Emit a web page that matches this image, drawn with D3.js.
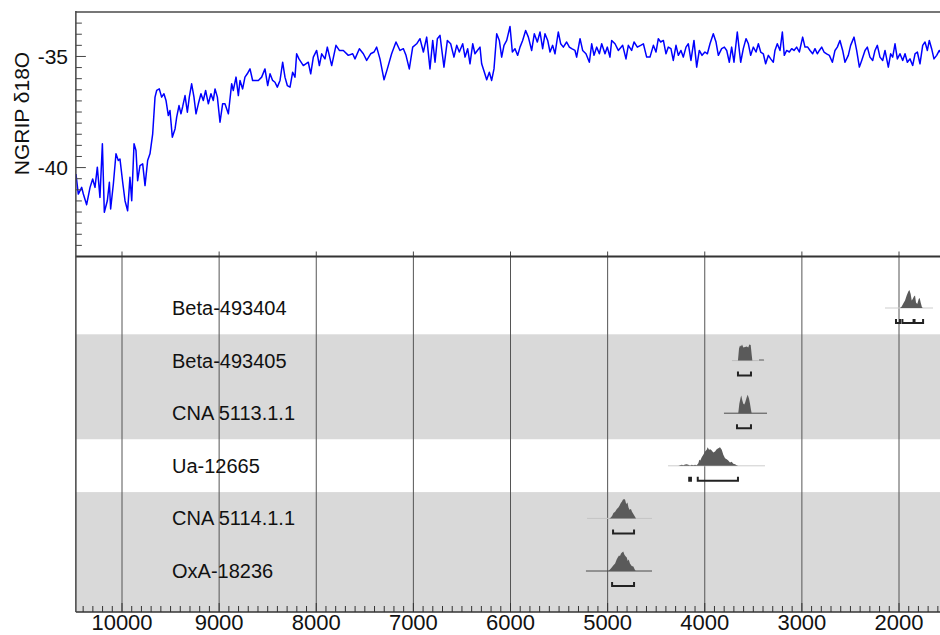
<!DOCTYPE html>
<html>
<head>
<meta charset="utf-8">
<script src="https://cdn.jsdelivr.net/npm/d3@7"></script>
<style>
  html, body { margin: 0; padding: 0; background: #fff; overflow: hidden; }
  svg { display: block; font-family: "Liberation Sans", Arial, Helvetica, sans-serif; }
</style>
</head>
<body>
<svg id="chart" width="940" height="635"></svg>
<script>
// ---- NGRIP δ18O record (age in cal BP, δ18O in ‰) ----
const ngripAge = [
  10474,10450,10415,10398,10364,10329,10302,10278,10254,10227,10202,10182,10151,10130,10117,10089,10062,10038,10021,
  9993,9969,9942,9918,9900,9876,9856,9839,9815,9787,9763,9736,9712,9684,9660,9643,9616,9592,9568,9547,9523,9506,9482,
  9454,9437,9413,9393,9375,9351,9327,9307,9283,9259,9238,9214,9187,9163,9139,9111,9084,9060,9042,9018,
  8991,8964,8940,8905,8871,8854,8826,8802,8785,8758,8734,8710,8682,8655,8631,8596,8562,8528,8500,8476,8449,8425,8401,
  8373,8346,8322,8298,8270,8243,8219,8202,8178,8133,8082,8057,8030,
  7996,7968,7944,7910,7886,7841,7797,7762,7721,7670,7625,7601,7556,7515,7481,7440,7405,7378,7344,7302,7268,7224,7179,
  7138,7103,7076,7042,7007,
  6966,6932,6897,6863,6829,6801,6777,6753,6726,6685,6650,6616,6582,6554,6527,6492,6468,6441,6417,6389,6366,6341,6314,
  6297,6269,6245,6218,6194,6170,6142,6115,6091,6067,6039,6005,
  5981,5954,5926,5902,5875,5844,5816,5782,5755,5724,5696,5669,5645,5617,5593,5566,5542,5508,5483,5456,5422,5394,5370,
  5336,5319,5284,5257,5223,5188,5164,5140,5113,5085,5061,5027,5003,
  4976,4958,4924,4890,4845,4811,4787,4753,4728,4694,4660,4632,4598,4564,4529,4502,4478,4454,4426,4399,4375,4348,4324,
  4296,4272,4245,4221,4193,4169,4142,4111,4083,4056,4028,
  3998,3973,3946,3912,3884,3860,3826,3798,3774,3747,3723,3699,3665,3644,3630,3603,3575,3551,3527,3500,3472,3448,3424,
  3397,3373,3345,3321,3294,3277,3253,3225,3201,3181,3157,3129,3105,3081,3054,3026,
  2992,2968,2940,2916,2889,2865,2841,2820,2796,2772,2745,2717,2686,2659,2635,2608,2580,2556,2522,2498,2463,2436,2408,
  2384,2350,2326,2299,2271,2247,2223,2196,2168,2144,2110,2086,2065,2041,2017,
  1990,1962,1938,1914,1887,1859,1835,1811,1784,1756,1732,1708,1688,1664,1640,1612,1585,1560,1530
];
const ngripD18O = [
  -40.29,-41.19,-40.89,-41.19,-41.67,-40.89,-40.51,-40.89,-39.98,-41.34,-38.93,-42.01,-41.49,-40.66,-41.86,-40.74,-39.38,-39.68,-39.61,
  -40.66,-41.49,-41.94,-40.44,-41.49,-38.93,-39.23,-40.59,-39.91,-39.83,-40.81,-39.68,-39.38,-38.48,-36.83,-36.53,-36.46,-36.83,-36.68,-36.98,-37.66,-37.43,-38.63,
  -38.26,-37.73,-37.21,-37.58,-37.25,-36.76,-37.51,-36.83,-36.23,-36.83,-37.58,-37.13,-36.68,-36.98,-36.53,-37.13,-36.68,-36.98,-36.46,-36.83,
  -37.96,-37.13,-37.13,-37.58,-36.23,-36.53,-35.93,-36.76,-36.08,-36.46,-35.93,-35.78,-35.56,-36.08,-36.08,-36.08,-35.93,-35.56,-36.31,-35.78,-36.08,-36.16,-36.38,
  -36.08,-35.26,-35.93,-36.31,-36.38,-35.71,-35.93,-34.88,-35.11,-35.41,-35.26,-35.78,-35.03,
  -34.73,-35.41,-34.88,-35.11,-34.58,-35.41,-34.50,-34.73,-34.73,-34.95,-34.88,-35.11,-34.65,-34.88,-35.18,-34.88,-34.80,-34.58,-35.11,-36.05,-35.56,-34.88,-34.35,
  -34.73,-34.65,-34.95,-35.56,-34.58,
  -34.43,-34.20,-34.80,-34.13,-35.56,-34.28,-35.26,-34.20,-34.05,-35.48,-34.28,-34.43,-35.03,-34.50,-34.80,-34.43,-35.03,-34.65,-35.33,-34.43,-34.88,-34.73,-34.58,
  -35.33,-35.71,-36.05,-35.71,-36.08,-35.56,-33.98,-34.28,-35.03,-34.50,-34.28,-33.65,
  -34.80,-34.65,-34.95,-34.58,-34.28,-33.83,-34.13,-34.73,-33.98,-34.35,-33.90,-34.65,-33.98,-34.28,-34.80,-34.50,-34.88,-33.90,-34.43,-34.58,-34.35,-34.58,-34.65,
  -34.73,-35.03,-34.20,-34.73,-34.88,-35.26,-34.43,-34.95,-34.58,-34.88,-34.43,-34.88,-34.58,
  -35.03,-34.28,-34.43,-34.73,-34.50,-35.11,-34.50,-34.73,-34.35,-34.58,-34.50,-34.43,-35.03,-35.03,-34.50,-34.80,-34.20,-34.35,-34.28,-34.88,-34.58,-34.65,-35.18,
  -34.50,-34.95,-34.73,-35.03,-34.58,-34.43,-35.18,-34.28,-35.48,-34.73,-34.95,
  -34.80,-34.88,-34.43,-33.98,-34.35,-34.95,-34.65,-34.58,-34.73,-35.26,-34.58,-35.26,-33.90,-34.73,-35.26,-34.65,-34.20,-34.43,-34.95,-34.58,-34.80,-34.43,-34.80,
  -34.88,-35.33,-34.95,-35.11,-35.26,-34.73,-34.43,-34.73,-33.90,-34.95,-34.73,-34.80,-34.65,-34.73,-34.58,-34.80,
  -34.13,-34.58,-34.58,-34.73,-34.88,-34.65,-34.88,-34.73,-34.58,-34.80,-34.88,-34.95,-35.26,-34.73,-34.58,-34.28,-34.73,-35.26,-34.95,-34.50,-34.13,-34.73,-35.48,
  -35.18,-34.73,-34.58,-35.03,-35.18,-34.73,-34.50,-35.03,-35.18,-34.73,-35.48,-34.88,-35.03,-34.43,-35.11,
  -34.88,-35.18,-34.88,-35.26,-35.11,-35.41,-34.88,-34.80,-35.33,-34.50,-34.35,-34.73,-34.28,-34.65,-35.11,-34.95,-34.73,-34.90,-35.05
];

// ---- Radiocarbon samples ----
const sampleLabels = ["Beta-493404", "Beta-493405", "CNA 5113.1.1", "Ua-12665", "CNA 5114.1.1", "OxA-18236"];
const sampleGroups = [0, 1, 1, 2, 3, 3];

// calibrated probability distributions: [age cal BP, relative probability]
const distBeta493404 = [[1990,0],[1972,0.07],[1956,0.23],[1938,0.37],[1921,0.62],[1904,0.83],[1893,0.9],[1880,0.7],[1869,0.37],[1859,0.45],[1846,0.57],[1835,0.62],[1825,0.28],[1812,0.2],[1797,0.45],[1787,0.5],[1777,0.28],[1763,0.03],[1750,0]];
const distBeta493405 = [[3658,0],[3647,0.6],[3637,0.75],[3627,0.7],[3616,0.8],[3603,0.65],[3585,0.68],[3568,0.7],[3552,0.65],[3541,0.8],[3527,0.78],[3517,0.3],[3510,0],[3445,0],[3440,0.05],[3392,0.05],[3388,0]];
const distCNA511311 = [[3655,0],[3644,0.47],[3630,0.8],[3624,0.88],[3613,0.63],[3603,0.47],[3593,0.43],[3583,0.55],[3568,0.8],[3558,0.92],[3544,0.72],[3534,0.47],[3524,0.17],[3517,0]];
const distUa12665 = [[4272,0],[4255,0.03],[4237,0.05],[4221,0.03],[4203,0.07],[4186,0.08],[4169,0.05],[4151,0.02],[4134,0.05],[4118,0.03],[4100,0.05],[4083,0.03],[4066,0.13],[4056,0.3],[4046,0.27],[4031,0.43],[4015,0.55],[3997,0.72],[3980,0.8],[3970,0.93],[3956,0.8],[3943,0.83],[3928,0.77],[3912,0.67],[3894,0.72],[3877,0.83],[3860,0.88],[3843,0.93],[3825,0.8],[3809,0.55],[3791,0.38],[3774,0.33],[3758,0.27],[3740,0.17],[3723,0.2],[3706,0.1],[3688,0.08],[3671,0.03],[3655,0]];
const distCNA511411 = [[4983,0],[4967,0.05],[4953,0.13],[4940,0.27],[4923,0.33],[4905,0.47],[4889,0.55],[4878,0.63],[4864,0.77],[4854,0.83],[4843,0.93],[4830,0.97],[4820,0.93],[4809,0.72],[4796,0.8],[4785,0.55],[4775,0.43],[4760,0.47],[4749,0.33],[4735,0.22],[4718,0.08],[4708,0]];
const distOxA18236 = [[4993,0],[4976,0.08],[4958,0.17],[4942,0.28],[4923,0.38],[4907,0.58],[4896,0.67],[4883,0.78],[4873,0.75],[4862,0.88],[4852,0.92],[4839,0.97],[4828,0.83],[4818,0.75],[4803,0.67],[4793,0.5],[4783,0.58],[4770,0.38],[4752,0.25],[4735,0.22],[4721,0.08],[4711,0]];

// highest-probability ranges [from, to] in cal BP
const rangeBeta493404 = [[2031,1990],[1965,1850],[1840,1752]];
const rangeBeta493405 = [[3658,3524]];
const rangeCNA511311 = [[3668,3524]];
const rangeUa12665 = [[4160,4142],[4072,3658]];
const rangeCNA511411 = [[4944,4728]];
const rangeOxA18236 = [[4954,4728]];

// full calibration span drawn as a baseline under each distribution
const spanBeta493404 = [2144, 1650];
const spanBeta493405 = [3720, 3450];
const spanCNA511311 = [3802, 3359];
const spanUa12665 = [4378, 3380];
const spanCNA511411 = [5212, 4543];
const spanOxA18236 = [5223, 4543];

// axis ticks
const ageTicks = [10000, 9000, 8000, 7000, 6000, 5000, 4000, 3000, 2000];
const d18OTicks = [-35, -40];

const samples = sampleLabels.map((label, i) => ({
  label,
  group: sampleGroups[i],
  dist: [distBeta493404, distBeta493405, distCNA511311, distUa12665, distCNA511411, distOxA18236][i],
  ranges: [rangeBeta493404, rangeBeta493405, rangeCNA511311, rangeUa12665, rangeCNA511411, rangeOxA18236][i],
  span: [spanBeta493404, spanBeta493405, spanCNA511311, spanUa12665, spanCNA511411, spanOxA18236][i]
}));
const spanColors = ["#cdcdcd", "#bdbdbd", "#4a4a4a", "#cdcdcd", "#c4c4c4", "#4a4a4a"];

// ---- layout ----
const svg = d3.select("#chart");
const x = d3.scaleLinear().domain([10000, 2000]).range([122, 899]);
const xLeft = x(10475), xRight = x(1300);
const topY0 = 12, topY1 = 256.5, botY1 = 612;

const y = d3.scaleLinear().domain([-44, -33]).range([topY1, topY0]);
const row = d3.scaleBand().domain(sampleLabels).range([281.7, 597.3]);
const densH = 20;      // pixel height of probability 1
const bracketOff = 15; // range bracket below the distribution baseline

// ---- bottom panel: alternating group bands ----
const groups = d3.groups(samples, d => d.group);
const lastGroup = groups[groups.length - 1][0];
svg.append("g").selectAll("rect")
  .data(groups)
  .join("rect")
  .attr("x", xLeft)
  .attr("width", xRight - xLeft)
  .attr("y", ([g, s]) => g === 0 ? topY1 : row(s[0].label))
  .attr("height", ([g, s]) => {
    const top = g === 0 ? topY1 : row(s[0].label);
    const bot = g === lastGroup ? botY1 : row(s[s.length - 1].label) + row.bandwidth();
    return bot - top;
  })
  .attr("fill", ([g]) => g % 2 ? "#d9d9d9" : "#ffffff");

// vertical grid lines
svg.append("g").selectAll("line")
  .data(ageTicks)
  .join("line")
  .attr("x1", d => x(d)).attr("x2", d => x(d))
  .attr("y1", topY1).attr("y2", botY1)
  .attr("stroke", "#555").attr("stroke-width", 1);

// ---- distributions ----
const rowsG = svg.append("g").selectAll("g")
  .data(samples)
  .join("g")
  .attr("transform", d => `translate(0,${row(d.label) + row.bandwidth() / 2})`);

rowsG.append("line")
  .attr("x1", d => x(d.span[0])).attr("x2", d => x(d.span[1]))
  .attr("y1", 0).attr("y2", 0)
  .attr("stroke", (d, i) => spanColors[i]).attr("stroke-width", 1);

const area = d3.area()
  .x(p => x(p[0]))
  .y0(0)
  .y1(p => -p[1] * densH);

rowsG.append("path")
  .attr("d", d => area(d.dist))
  .attr("fill", "#5a5a5a");

rowsG.selectAll("path.range")
  .data(d => d.ranges)
  .join("path")
  .attr("class", "range")
  .attr("d", r => {
    const a = x(r[0]), b = x(r[1]), yy = bracketOff;
    return `M${a},${yy - 4}V${yy}H${b}V${yy - 4}`;
  })
  .attr("fill", "none")
  .attr("stroke", "#222")
  .attr("stroke-width", 2);

rowsG.append("text")
  .attr("x", 172)
  .attr("y", 0)
  .attr("dy", "0.35em")
  .attr("font-size", 20)
  .attr("fill", "#111")
  .text(d => d.label);

// ---- top panel: NGRIP curve ----
svg.append("rect")
  .attr("x", xLeft).attr("y", topY0)
  .attr("width", xRight - xLeft).attr("height", topY1 - topY0)
  .attr("fill", "#fff");

svg.append("clipPath").attr("id", "topClip")
  .append("rect")
  .attr("x", xLeft).attr("y", topY0)
  .attr("width", xRight - xLeft).attr("height", topY1 - topY0);

const ngrip = ngripAge.map((a, i) => [a, ngripD18O[i]]);
svg.append("path")
  .datum(ngrip)
  .attr("clip-path", "url(#topClip)")
  .attr("d", d3.line().x(d => x(d[0])).y(d => y(d[1])))
  .attr("fill", "none")
  .attr("stroke", "#0000ff")
  .attr("stroke-width", 1.5)
  .attr("stroke-linejoin", "round");

// y axis ticks (inward)
const yMinor = d3.range(-43.5, -33, 0.5);
svg.append("g").selectAll("line")
  .data(yMinor)
  .join("line")
  .attr("x1", xLeft).attr("x2", d => xLeft + (d18OTicks.includes(d) ? 10 : 6))
  .attr("y1", d => y(d)).attr("y2", d => y(d))
  .attr("stroke", "#444").attr("stroke-width", 1);

svg.append("g").selectAll("text")
  .data(d18OTicks)
  .join("text")
  .attr("x", 68).attr("y", d => y(d))
  .attr("dy", "0.35em")
  .attr("text-anchor", "end")
  .attr("font-size", 21)
  .attr("fill", "#111")
  .text(d => d);

svg.append("text")
  .attr("transform", "translate(22,113.5) rotate(-90)")
  .attr("text-anchor", "middle")
  .attr("dy", "0.35em")
  .attr("font-size", 21)
  .attr("fill", "#111")
  .text("NGRIP δ18O");

// ticks along the bottom of the top panel
svg.append("g").selectAll("line")
  .data(ageTicks)
  .join("line")
  .attr("x1", d => x(d)).attr("x2", d => x(d))
  .attr("y1", topY1).attr("y2", topY1 - 5)
  .attr("stroke", "#444").attr("stroke-width", 1);

// ---- bottom axis ----
const xMinor = d3.range(10400, 1300, -100);
svg.append("g").selectAll("line")
  .data(xMinor)
  .join("line")
  .attr("x1", d => x(d)).attr("x2", d => x(d))
  .attr("y1", botY1).attr("y2", d => botY1 - (d % 1000 === 0 ? 9 : 6))
  .attr("stroke", "#333").attr("stroke-width", 1);

svg.append("g").selectAll("text")
  .data(ageTicks)
  .join("text")
  .attr("x", d => x(d)).attr("y", 630)
  .attr("text-anchor", "middle")
  .attr("font-size", 22)
  .attr("fill", "#111")
  .text(d => d);

// ---- frames ----
svg.append("line").attr("x1", xLeft).attr("x2", xRight).attr("y1", topY0).attr("y2", topY0)
  .attr("stroke", "#777").attr("stroke-width", 2);
svg.append("line").attr("x1", xLeft).attr("x2", xRight).attr("y1", topY1).attr("y2", topY1)
  .attr("stroke", "#333").attr("stroke-width", 2);
svg.append("line").attr("x1", xLeft).attr("x2", xRight).attr("y1", botY1).attr("y2", botY1)
  .attr("stroke", "#333").attr("stroke-width", 1.5);
svg.append("line").attr("x1", xLeft).attr("x2", xLeft).attr("y1", topY0 - 1).attr("y2", botY1)
  .attr("stroke", "#444").attr("stroke-width", 1.5);
</script>
</body>
</html>
